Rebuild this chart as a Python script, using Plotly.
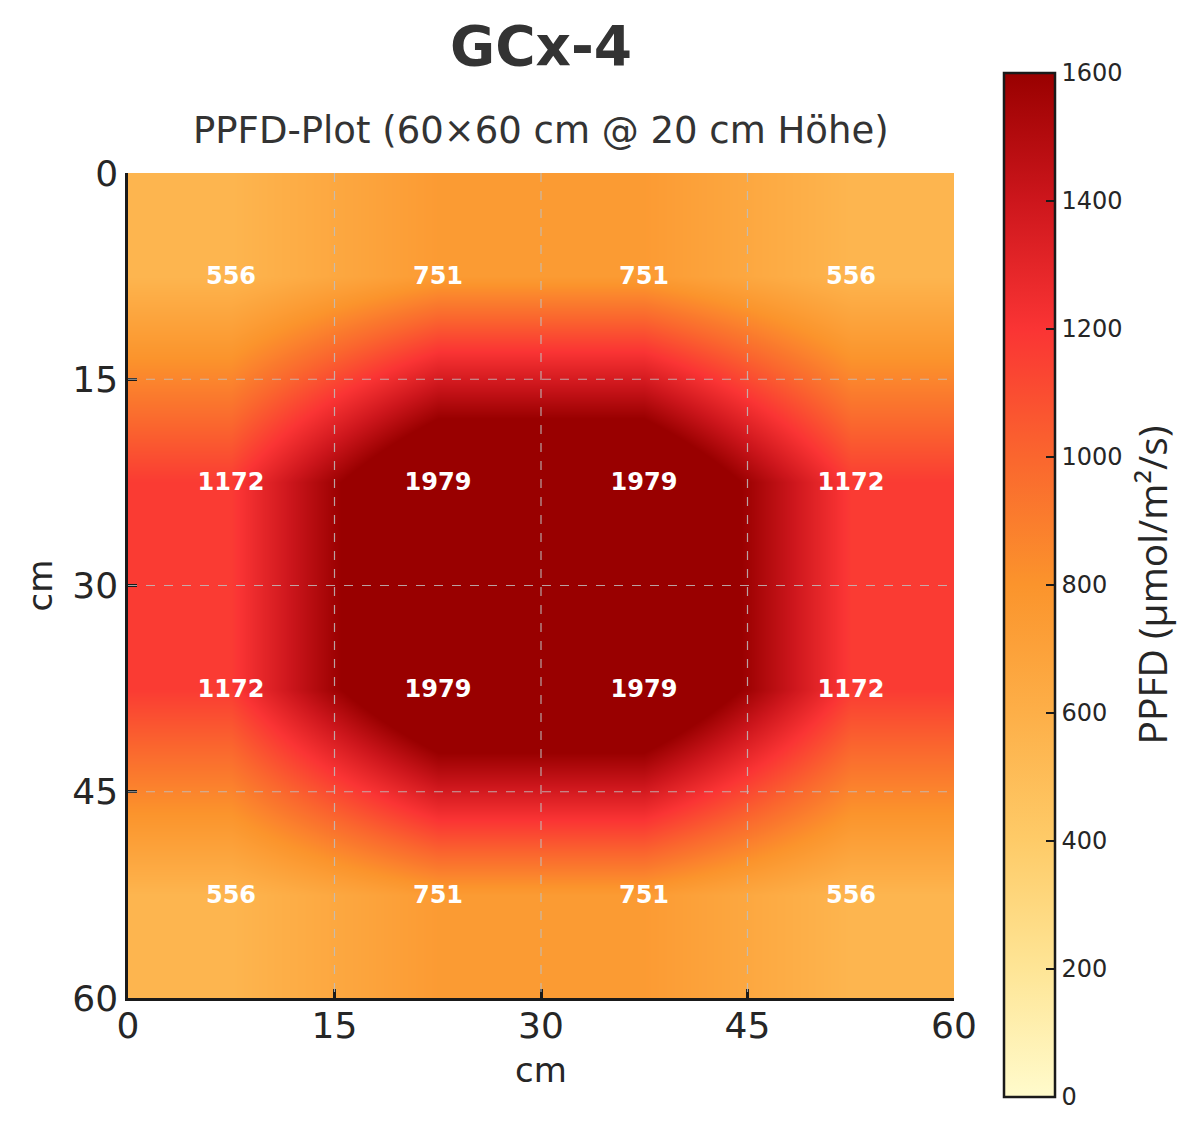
import plotly.graph_objects as go

# ---- data ----
x_centers = [7.5, 22.5, 37.5, 52.5]
y_centers = [7.5, 22.5, 37.5, 52.5]
row_1 = [556, 751, 751, 556]
row_2 = [1172, 1979, 1979, 1172]
row_3 = [1172, 1979, 1979, 1172]
row_4 = [556, 751, 751, 556]
z_values = [row_1, row_2, row_3, row_4]

axis_ticks = [0, 15, 30, 45, 60]
grid_positions = [15, 30, 45]
cbar_ticks = [0, 200, 400, 600, 800, 1000, 1200, 1400, 1600]

title_text = "GCx-4"
subtitle_text = "PPFD-Plot (60×60 cm @ 20 cm Höhe)"
cbar_title = "PPFD (µmol/m²/s)"
axis_label = "cm"

colorscale = [
    [0.0, "rgb(255,251,204)"],
    [0.125, "rgb(254,229,150)"],
    [0.25, "rgb(254,203,104)"],
    [0.375, "rgb(253,175,72)"],
    [0.5, "rgb(251,148,44)"],
    [0.625, "rgb(250,102,46)"],
    [0.75, "rgb(250,52,52)"],
    [0.875, "rgb(205,22,28)"],
    [1.0, "rgb(153,0,0)"],
]

font_main = "DejaVu Sans"
txt_col = "#262626"

fig = go.Figure()
fig.add_trace(go.Heatmap(
    x=x_centers, y=y_centers, z=z_values,
    zmin=0, zmax=1600, colorscale=colorscale, zsmooth="best",
    texttemplate="%{z}",
    textfont=dict(family=font_main, size=24, color="white", weight="bold"),
    hoverinfo="skip",
    colorbar=dict(
        x=1.0605, xanchor="left", xref="paper",
        y=0.5006, yanchor="middle",
        lenmode="pixels", len=1024,
        thicknessmode="pixels", thickness=51,
        outlinewidth=2.5, outlinecolor="#1a1a1a",
        tickvals=cbar_ticks, ticks="inside", ticklen=10, tickwidth=2,
        tickcolor="#1a1a1a",
        tickfont=dict(family=font_main, size=24, color=txt_col),
        title=dict(text=cbar_title, side="right",
                   font=dict(family="Open Sans", size=39, color=txt_col)),
        ypad=0, xpad=0,
    ),
))

for g in grid_positions:
    fig.add_shape(type="line", x0=g, x1=g, y0=0, y1=60, xref="x", yref="y",
                  line=dict(color="rgba(190,190,190,0.85)", width=1.2, dash="dash"),
                  layer="above")
    fig.add_shape(type="line", x0=0, x1=60, y0=g, y1=g, xref="x", yref="y",
                  line=dict(color="rgba(190,190,190,0.85)", width=1.2, dash="dash"),
                  layer="above")

fig.add_annotation(text=title_text, xref="paper", yref="paper", x=0.5, y=1.154,
                   showarrow=False, xanchor="center", yanchor="middle",
                   font=dict(family=font_main, size=55, color="#333333", weight="bold"))
fig.add_annotation(text=subtitle_text, xref="paper", yref="paper", x=0.5, y=1.052,
                   showarrow=False, xanchor="center", yanchor="middle",
                   font=dict(family=font_main, size=37, color="#333333"))

axis_common = dict(
    tickvals=axis_ticks, ticks="inside", ticklen=9, tickwidth=2.5, tickcolor="#1a1a1a",
    showline=True, linecolor="#1a1a1a", linewidth=2.5, mirror=False,
    showgrid=False, zeroline=False,
    tickfont=dict(family=font_main, size=36, color=txt_col),
    layer="above traces",
)
fig.update_xaxes(range=[0, 60], ticklabelstandoff=-6,
                 title=dict(text=axis_label, standoff=14,
                            font=dict(family=font_main, size=34, color=txt_col)),
                 **axis_common)
fig.update_yaxes(range=[60, 0],
                 title=dict(text=axis_label, standoff=10,
                            font=dict(family=font_main, size=34, color=txt_col)),
                 **axis_common)

fig.update_layout(
    width=1200, height=1135,
    margin=dict(l=128, r=246, t=173, b=137),
    paper_bgcolor="white", plot_bgcolor="white",
    font=dict(family=font_main, color=txt_col),
    showlegend=False,
)

fig.write_html("out.html", config={"displayModeBar": False},
               post_script="document.body.style.margin='0';")
